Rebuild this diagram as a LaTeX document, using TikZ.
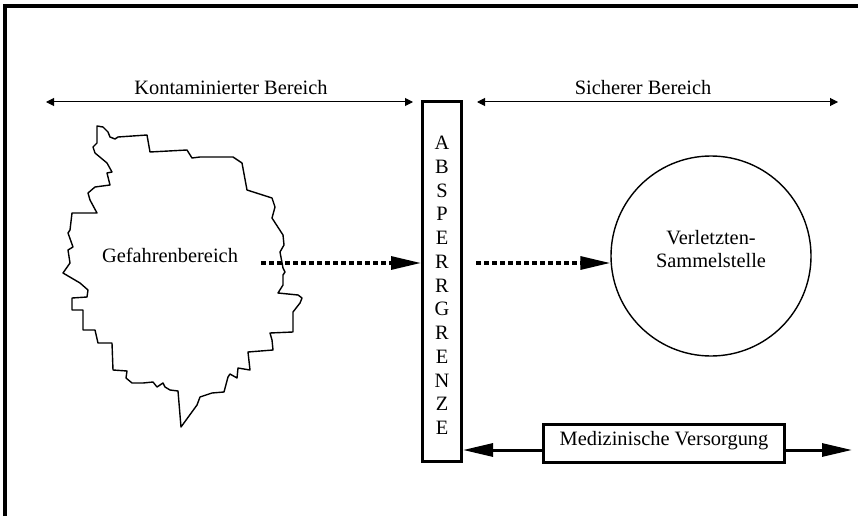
\documentclass[tikz,border=0pt]{standalone}
\usepackage{fontspec}
\setmainfont{Liberation Serif}
\usetikzlibrary{arrows.meta}
\begin{document}
\begin{tikzpicture}[x=1pt,y=-1pt,
  txt/.style={font=\fontsize{20.4}{23.75}\selectfont, inner sep=0pt},
  thinarrow/.style={line width=1pt,{Triangle[length=8pt,width=8pt]}-{Triangle[length=8pt,width=8pt]}},
  dotarrow/.style={line width=3.2pt,dash pattern=on 4.5pt off 3.5pt,-{Triangle[length=30pt,width=13pt]}},
  thickarrow/.style={line width=3pt,-{Triangle[length=30pt,width=13pt]}},
  barrier/.style={draw,line width=3pt,minimum width=39pt,minimum height=360pt,inner sep=0pt},
  boxnode/.style={draw,line width=3pt,minimum width=241pt,minimum height=38pt,inner sep=0pt},
  ring/.style={draw,circle,line width=1.4pt,minimum size=200pt,inner sep=0pt}
]
\useasboundingbox (0,0) rectangle (858,516);
% frame (top and left only)
\draw[line width=4pt] (5,516) -- (5,6) -- (858,6);

% range arrows
\coordinate (k1) at (46,102);
\coordinate (k2) at (413,102);
\coordinate (s1) at (477,102);
\coordinate (s2) at (838,102);
\draw[thinarrow] (k1) -- (k2);
\draw[thinarrow] (s1) -- (s2);
\node[txt] (klab) at (231,88) {Kontaminierter Bereich};
\node[txt] (slab) at (643,88) {Sicherer Bereich};

% hazard area
\draw[line width=1.4pt, line join=round]
 (97,126)--(103,127)--(108,132)--(110,137)--(115,139)--(118,137)--(147,135)--(150,152)--(187,150)--(192,158)--(200,157)--(233,157)--(242,163)--(247,190)--(272,198)--(275,207)--(272,218)--(283,235)--(284,245)--(280,252)--(283,268)--(285,272)--(283,275)--(283,285)--(278,293)--(298,295)--(302,298)--(300,303)--(293,312)--(293,332)--(270,333)--(272,340)--(273,350)--(248,352)--(250,370)--(238,368)--(237,378)--(230,374)--(228,377)--(224,392)--(212,393)--(200,397)--(197,405)--(181,427)--(178,391)--(170,390)--(165,387)--(163,383)--(157,387)--(153,382)--(143,383)--(132,383)--(126,378)--(127,371)--(113,370)--(112,343)--(98,343)--(95,330)--(83,330)--(83,310)--(72,310)--(72,298)--(87,297)--(88,290)--(80,283)--(63,273)--(70,263)--(68,250)--(73,247)--(68,233)--(70,230)--(72,213)--(97,213)--(90,200)--(88,193)--(95,187)--(110,185)--(107,173)--(112,172)--(107,163)--(95,153)--(93,147)--(97,143)--cycle;
\node[txt] (gef) at (170,255) {Gefahrenbereich};

% barrier
\node[barrier] (bar) at (442,281.5) {};
\node[txt,align=center] (barlab) at (442,285.5) {A\\B\\S\\P\\E\\R\\R\\G\\R\\E\\N\\Z\\E};

% collection point
\node[ring] (vs) at (711,256) {};
\node[txt,align=center] (vslab) at (711,249) {Verletzten-\\Sammelstelle};

% dotted arrows
\coordinate (d1) at (261,263);
\coordinate (d2) at (476,263);
\draw[dotarrow] (d1) -- (d1 -| bar.west);
\draw[dotarrow] (d2) -- (d2 -| vs.west);

% medical care
\node[boxnode] (med) at (664,443.5) {};
\node[txt] (medlab) at (664,441) {Medizinische Versorgung};
\coordinate (m1) at (543,450);
\coordinate (m2) at (786,450);
\coordinate (mend) at (852,450);
\draw[thickarrow] (m1) -- (m1 -| bar.east);
\draw[thickarrow] (m2) -- (mend);
\end{tikzpicture}
\end{document}
